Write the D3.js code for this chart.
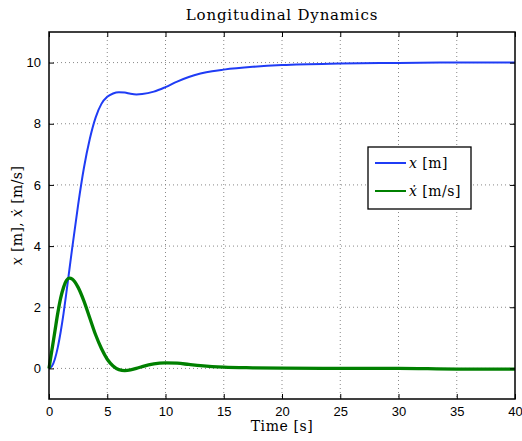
<!DOCTYPE html>
<html>
<head>
<meta charset="utf-8">
<script src="https://cdn.jsdelivr.net/npm/d3@7"></script>
<style>
  body { margin: 0; background: #fff; }
  .tick text { font-family: "Liberation Sans", Arial, sans-serif; font-size: 13px; fill: #000; }
  .serif { font-family: "DejaVu Serif", "Liberation Serif", serif; }
</style>
</head>
<body>
<script>
// time samples [s]
var time = [0, 0.25, 0.5, 0.75, 1, 1.25, 1.5, 1.75, 2, 2.5, 3, 3.5, 4, 4.5, 5, 5.5, 6, 6.5, 7, 7.5, 8, 9, 10, 11, 12, 13, 14, 15, 17.5, 20, 25, 30, 35, 40];
// position x [m]
var position = [0, 0.07, 0.3, 0.68, 1.19, 1.8, 2.5, 3.23, 3.96, 5.35, 6.56, 7.5, 8.2, 8.65, 8.88, 8.99, 9.03, 9.02, 8.98, 8.96, 8.97, 9.05, 9.2, 9.38, 9.53, 9.64, 9.72, 9.77, 9.86, 9.92, 9.97, 9.99, 10, 10];
// velocity xdot [m/s]
var velocity = [0, 0.6, 1.2, 1.8, 2.3, 2.65, 2.88, 2.95, 2.92, 2.65, 2.2, 1.65, 1.1, 0.65, 0.3, 0.08, -0.04, -0.07, -0.05, 0, 0.06, 0.15, 0.18, 0.17, 0.13, 0.09, 0.06, 0.04, 0.02, 0.01, 0, 0, -0.02, -0.02];

var xTicks = [0, 5, 10, 15, 20, 25, 30, 35, 40];
var yTicks = [0, 2, 4, 6, 8, 10];

var w = 522, h = 441;
var margin = {top: 32, right: 7, bottom: 42, left: 49};
var gw = w - margin.left - margin.right;
var gh = h - margin.top - margin.bottom;

var svg = d3.select("body").append("svg")
  .attr("width", w)
  .attr("height", h);

var graph = svg.append("g")
  .attr("transform", `translate(${margin.left}, ${margin.top})`);

var xScale = d3.scaleLinear().domain([0, 40]).range([0, gw]);
var yScale = d3.scaleLinear().domain([-1, 11]).range([gh, 0]);

// dotted grid
graph.append("g").selectAll("line").data(xTicks.slice(1, -1)).enter().append("line")
  .attr("x1", d => xScale(d)).attr("x2", d => xScale(d))
  .attr("y1", 0).attr("y2", gh)
  .attr("stroke", "#888").attr("stroke-width", 1).attr("stroke-dasharray", "1,3");
graph.append("g").selectAll("line").data(yTicks).enter().append("line")
  .attr("y1", d => yScale(d)).attr("y2", d => yScale(d))
  .attr("x1", 0).attr("x2", gw)
  .attr("stroke", "#888").attr("stroke-width", 1).attr("stroke-dasharray", "1,3");

// lines
var posLine = d3.line().x((d, i) => xScale(time[i])).y(d => yScale(d)).curve(d3.curveMonotoneX);

graph.append("path").datum(position)
  .attr("d", posLine)
  .attr("fill", "none").attr("stroke", "#1f3cf5").attr("stroke-width", 2);

graph.append("path").datum(velocity)
  .attr("d", posLine)
  .attr("fill", "none").attr("stroke", "#008000").attr("stroke-width", 3.3);

// axes (ticks pointing inward, MATLAB style)
var xAxis = graph.append("g").attr("transform", `translate(0, ${gh})`)
  .call(d3.axisBottom(xScale).tickValues(xTicks).tickSizeInner(-5).tickSizeOuter(0).tickPadding(8));
var yAxis = graph.append("g")
  .call(d3.axisLeft(yScale).tickValues(yTicks).tickSizeInner(-5).tickSizeOuter(0).tickPadding(8));
graph.append("g")
  .call(d3.axisTop(xScale).tickValues(xTicks).tickSizeInner(-5).tickSizeOuter(0))
  .selectAll("text").remove();
graph.append("g").attr("transform", `translate(${gw}, 0)`)
  .call(d3.axisRight(yScale).tickValues(yTicks).tickSizeInner(-5).tickSizeOuter(0))
  .selectAll("text").remove();
graph.selectAll(".domain").remove();

// box
graph.append("rect")
  .attr("width", gw).attr("height", gh)
  .attr("fill", "none").attr("stroke", "#000").attr("stroke-width", 1.5);

// title & labels
svg.append("text").attr("class", "serif")
  .attr("x", margin.left + gw / 2).attr("y", 20)
  .attr("text-anchor", "middle").attr("font-size", 15)
  .attr("letter-spacing", 0.8)
  .text("Longitudinal Dynamics");

svg.append("text").attr("class", "serif")
  .attr("x", margin.left + gw / 2).attr("y", 431)
  .attr("text-anchor", "middle").attr("font-size", 14)
  .attr("letter-spacing", 0.6)
  .text("Time [s]");

var yl = svg.append("text").attr("class", "serif")
  .attr("transform", `translate(22, ${margin.top + gh / 2}) rotate(-90)`)
  .attr("text-anchor", "middle").attr("font-size", 14)
  .attr("letter-spacing", 0.4);
yl.append("tspan").attr("font-style", "italic").text("x");
yl.append("tspan").text(" [m], ");
yl.append("tspan").attr("font-style", "italic").text("ẋ");
yl.append("tspan").text(" [m/s]");

// legend
var legend = svg.append("g");
legend.append("rect")
  .attr("x", 368).attr("y", 147).attr("width", 103).attr("height", 62)
  .attr("fill", "#fff").attr("stroke", "#000").attr("stroke-width", 1.3);

var legendItems = [
  {main: "x", unit: " [m]", color: "#1f3cf5"},
  {main: "ẋ", unit: " [m/s]", color: "#008000"}
];
legendItems.forEach(function(item, i) {
  var y = 163 + i * 28;
  legend.append("line")
    .attr("x1", 375).attr("x2", 406).attr("y1", y).attr("y2", y)
    .attr("stroke", item.color).attr("stroke-width", 2);
  var t = legend.append("text").attr("class", "serif")
    .attr("x", 409).attr("y", y + 5).attr("font-size", 14)
    .attr("letter-spacing", 0.5);
  t.append("tspan").attr("font-style", "italic").text(item.main);
  t.append("tspan").text(item.unit);
});
</script>
</body>
</html>
